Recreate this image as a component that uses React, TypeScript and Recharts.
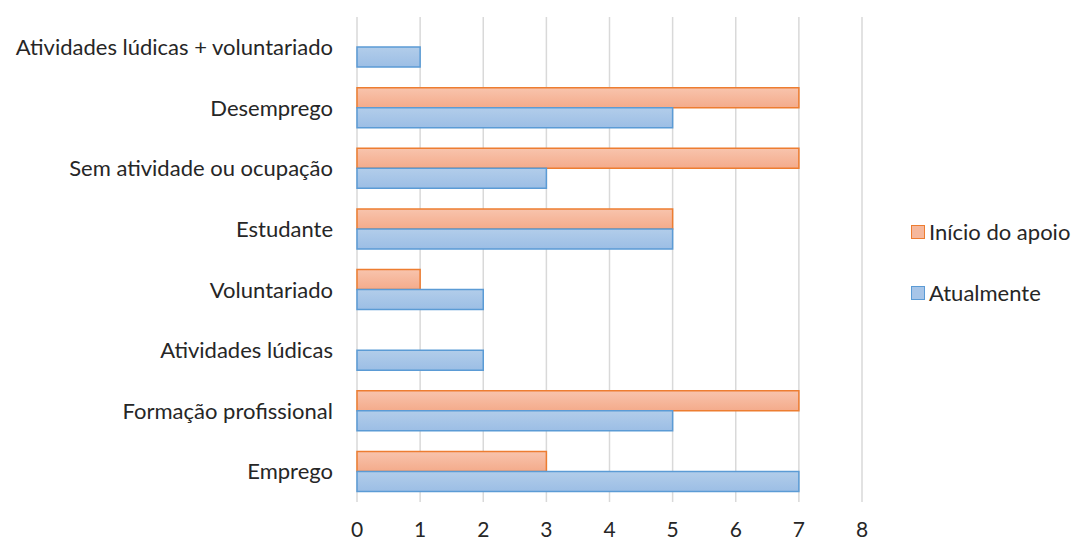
import { Bar, BarChart, CartesianGrid, XAxis, YAxis } from "recharts";

const categories = [
  "Atividades lúdicas + voluntariado",
  "Desemprego",
  "Sem atividade ou ocupação",
  "Estudante",
  "Voluntariado",
  "Atividades lúdicas",
  "Formação profissional",
  "Emprego",
];
const inicioDoApoio = [0, 7, 7, 5, 1, 0, 7, 3];
const atualmente = [1, 5, 3, 5, 2, 2, 5, 7];
const xTicks = [0, 1, 2, 3, 4, 5, 6, 7, 8];

const data = categories.map((name, i) => ({
  name,
  inicio: inicioDoApoio[i],
  atual: atualmente[i],
}));

const FONT = "Lato, 'Open Sans', sans-serif";
const FONT_SIZE = 22;
const TEXT = "#262626";

const legendItems = [
  { label: "Início do apoio", solid: "#f6b89c", stroke: "#ED7D31" },
  { label: "Atualmente", solid: "#a7c5e8", stroke: "#5B9BD5" },
];

function LegendBox() {
  return (
    <div
      style={{
        position: "absolute",
        left: 911,
        top: 201,
        fontFamily: FONT,
        fontSize: FONT_SIZE,
        color: TEXT,
      }}
    >
      {legendItems.map((it) => (
        <div key={it.label} style={{ display: "flex", alignItems: "center", height: 61 }}>
          <span
            style={{
              display: "inline-block",
              width: 12,
              height: 12,
              background: it.solid,
              border: `1.5px solid ${it.stroke}`,
              marginRight: 4,
            }}
          />
          {it.label}
        </div>
      ))}
    </div>
  );
}

export default function App() {
  return (
    <div style={{ position: "absolute", left: 0, top: 0, width: 1075, height: 540, background: "#fff" }}>
      <BarChart
        width={1075}
        height={540}
        data={data}
        layout="vertical"
        margin={{ top: 17, right: 213, bottom: 0, left: 0 }}
        barGap={0}
      >
        <defs>
          <linearGradient id="gradOrange" x1="0" y1="0" x2="0" y2="1">
            <stop offset="0%" stopColor="#f8c4ad" />
            <stop offset="100%" stopColor="#f4ab8b" />
          </linearGradient>
          <linearGradient id="gradBlue" x1="0" y1="0" x2="0" y2="1">
            <stop offset="0%" stopColor="#b2cdea" />
            <stop offset="100%" stopColor="#9cbee5" />
          </linearGradient>
        </defs>
        <CartesianGrid horizontal={false} stroke="#d9d9d9" strokeWidth={1.5} />
        <XAxis
          type="number"
          domain={[0, 8]}
          ticks={xTicks}
          interval={0}
          axisLine={false}
          tickLine={false}
          tickSize={0}
          tickMargin={20}
          height={38}
          tick={{ fontFamily: FONT, fontSize: FONT_SIZE - 1, fill: TEXT }}
        />
        <YAxis
          type="category"
          dataKey="name"
          width={357}
          axisLine={false}
          tickLine={false}
          tickSize={0}
          tickMargin={24}
          interval={0}
          tick={{ fontFamily: FONT, fontSize: FONT_SIZE, fill: TEXT }}
        />
        <Bar
          dataKey="inicio"
          name="Início do apoio"
          fill="url(#gradOrange)"
          stroke="#ED7D31"
          strokeWidth={1.5}
          barSize={20}
          isAnimationActive={false}
        />
        <Bar
          dataKey="atual"
          name="Atualmente"
          fill="url(#gradBlue)"
          stroke="#5B9BD5"
          strokeWidth={1.5}
          barSize={20}
          isAnimationActive={false}
        />
      </BarChart>
      <LegendBox />
    </div>
  );
}
